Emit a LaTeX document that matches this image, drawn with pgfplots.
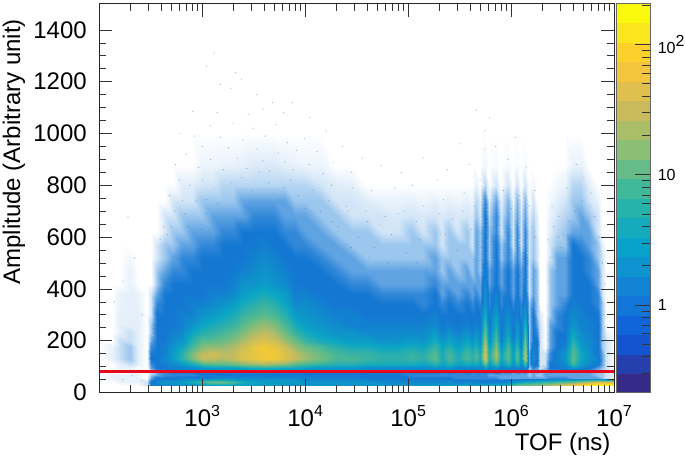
\documentclass[border=0pt]{standalone}
\usepackage{fontspec}
\setmainfont{Liberation Sans}
\usepackage{pgfplots}
\usepackage{pgfplotstable}
\pgfplotsset{compat=1.18}

\newcommand{\lab}{\fontsize{24}{28}\selectfont}
\newcommand{\up}[1]{\raisebox{0.42em}{\fontsize{16}{16}\selectfont #1}}

% counts per cell as levels: 0 empty, 5 = one count, +10 per decade
% rows: TOF (ns), columns: amplitude
\pgfplotstableread[header=has colnames]{
T      0 25 30 42 55  68 80 95 110 130  150 175 200 230 260  300 340 380 420 470  520 570 620 680 740  800 880 1000 1500
1.00e2  0 0 0 0 0  0 0 0 0 0  0 0 0 0 0  0 0 0 0 0  0 0 0 0 0  0 0 0 0
1.32e2  0 0 0 0 0.5  0.5 0 0 0 0.5  0.5 0.5 0 0 0  0 0 0 0 0  0 0 0 0 0  0 0 0 0
1.58e2  0 0 0 0.5 0.5  0.5 0 0.5 0.6 1.2  1.2 1.2 1.2 0.6 0.6  0.6 0.5 0.5 0 0  0 0 0 0 0  0 0 0 0
2.00e2  0 0 0 0.5 0.5  0.5 0.5 0.5 1.2 2  2 2 1.2 1.2 0.6  0.6 0.6 0.6 0.5 0.5  0.3 0 0 0 0  0 0 0 0
2.40e2  0 0 0 0.5 0.5  0.5 0.5 0 0.6 0.6  0.6 0.6 0.6 0.6 0.6  0.6 0.5 0.5 0 0  0 0 0 0 0  0 0 0 0
2.88e2  0 0 1 1 0  0 0 0 0 0  0 0 0 0 0  0 0 0 0 0  0 0 0 0 0  0 0 0 0
3.16e2  0 0 5 5 3  2 1 3 4 5  5 4 3 2 2  1 1 1 0 0  0 0 0 0 0  0 0 0 0
3.63e2  0 0 6 7 5  3 3 5 5 5  5 5 5 5 5  5 4 3 2 2  1 1 0 0 0  0 0 0 0
4.37e2  0 0 7 8 5  4 4 5 6 7  6 6 5 5 5  5 5 5 4 3  2 2 1 1 0  0 0 0 0
5.25e2  0 0 7 8 5  4 5 6 7 9  9 8 7 6 5  5 5 5 5 4  3 2 2 1 1  0 0 0 0
6.31e2  0 0 8 9 6  4 5 6 9 12  12 10 8 7 6  6 5 5 5 4  4 3 2 2 1  0.7 0 0 0
7.94e2  0 0 8 11 6  4 5 7 11 16  17 14 12 10 8  6 6 5 5 5  4 3 3 2 1  0.7 0 0 0
1.00e3  0 0 9 14 6  5 5 8 14 20  20 17 15 12 10  8 6 5 5 5  5 4 3 2 2  1 0.4 0 0
1.26e3  0 0 10 16 6  5 5 9 15 20  21 18 15 13 11  9 7 6 5 5  5 4 3 3 2  1 0.4 0 0
1.59e3  0 0 10 16 7  5 5 9 15 19  20 18 16 14 12  10 8 6 5 5  5 5 4 3 2  1.5 0.5 0 0
2.00e3  0 0 10 14 7  5 6 9 16 20  20 19 17 15 13  11 9 7 6 5  5 5 4 3 2  1.5 0.5 0 0
2.51e3  0 0 9 11 7  5 6 10 17 22  22 21 19 17 15  13 11 9 8 6  5 5 5 3 3  1.5 0.6 0 0
3.16e3  0 0 9 10 7  5 6 11 18 23  23 23 21 19 17  14 12 10 8 7  6 5 5 4 3  1.5 0.8 0 0
3.98e3  0 0 9 9 7  5 6 11 19 24  24 24 22 20 18  15 13 11 9 8  7 6 5 4 3  1.5 0.8 0 0
5.01e3  0 0 9 9 7  5 6 11 18 24  24 23 21 19 17  14 12 10 8 7  6 5 5 4 3  1.5 0.8 0 0
6.31e3  0 0 8 9 7  5 6 10 17 22  22 21 18 16 14  12 10 9 7 6  5 5 4 3 3  1.5 0.6 0 0
7.94e3  0 0 8 9 7  5 5 10 15 20  20 18 16 13 11  9 7 6 5 5  5 4 4 3 2  1.5 0.5 0 0
1.00e4  0 0 8 8 6  5 5 9 14 18  18 16 13 11 9  8 7 6 5 5  5 4 3 3 2  1.5 0.4 0 0
1.41e4  0 0 8 8 6  5 5 8 13 16  16 14 11 9 8  7 6 5 5 5  4 3 3 2 2  1 0.4 0 0
2.00e4  0 0 8 8 6  5 5 8 12 14  14 12 10 8 7  6 5 5 5 4  3 3 2 2 1  0.7 0 0 0
2.82e4  0 0 8 8 6  5 5 8 12 14  13 11 9 8 6  6 5 5 4 3  3 2 2 1 1  0.6 0 0 0
3.98e4  0 0 8 8 5  5 5 7 11 13  13 11 9 7 6  5 5 5 4 3  2 2 2 1 0.7  0 0 0 0
5.62e4  0 0 8 7 5  5 5 7 11 12  12 10 8 7 6  5 5 4 3 3  2 2 1 1 0.5  0 0 0 0
7.94e4  0 0 8 7 5  5 5 7 11 12  12 10 8 7 6  5 5 4 3 3  2 2 1 0.8 0.5  0 0 0 0
1.10e5  0 0 8 7 5  4 5 7 11 13  13 11 9 7 6  5 5 4 3 3  2 2 2 1 0.6  0 0 0 0
1.41e5  0 0 8 7 5  4 5 7 10 12  12 10 8 7 6  5 4 4 3 3  2 2 1 0.8 0.4  0 0 0 0
1.82e5  0 0 8 7 5  4 5 8 12 15  15 13 11 9 7  6 5 5 4 3  3 2 2 1 0.6  0 0 0 0
2.14e5  0 0 8 7 5  4 4 7 10 11  11 10 8 6 5  5 4 3 3 2  2 1 1 0.8 0.4  0 0 0 0
2.51e5  0 0 8 7 5  4 5 8 12 14  14 12 10 8 6  5 5 4 3 3  2 2 2 1 0.6  0 0 0 0
3.02e5  0 0 9 6 4  4 4 6 10 11  11 9 8 6 5  5 4 3 3 2  2 2 1 0.8 0.4  0 0 0 0
3.72e5  0 0 9 7 4  4 5 7 11 14  14 12 10 8 6  5 5 4 3 3  2 2 2 1 0.6  0 0 0 0
4.17e5  0 0 9 6 4  4 4 6 10 12  12 10 8 6 5  5 4 3 3 2  2 1 1 0.8 0.4  0 0 0 0
4.57e5  0 0 9 6 4  4 5 7 11 14  14 12 10 8 6  5 5 4 3 3  3 3 3 2 1.5  0.5 0 0 0
5.01e5  0 0 9 6 4  4 4 6 9 11  11 9 7 6 5  5 4 3 3 2  2 2 2 1 0.7  0 0 0 0
5.56e5  0 0 10 6 4  4 5 9 16 22  22 21 19 16 14  11 9 8 7 6  5 5 5 5 4  1.5 0.3 0 0
6.17e5  0 0 10 6 4  3 4 6 9 11  11 9 7 6 5  5 4 4 3 3  2 2 2 1.5 0.7  0 0 0 0
7.08e5  0 0 10 6 4  3 5 8 14 18  19 17 15 13 11  9 7 6 5 5  5 5 4 4 3  1 0.2 0 0
7.94e5  0 0 10 6 3  3 4 5 8 10  10 8 6 5 5  5 4 4 3 3  2 2 1 1 0.6  0 0 0 0
9.33e5  0 0 12 7 3  3 4 7 12 15  15 14 12 10 8  7 6 5 5 5  4 4 4 3 2.5  1 0.2 0 0
1.05e6  0 0 14 8 3  3 3 5 8 9  9 8 6 5 5  5 4 3 3 3  2 1 1 1 0.5  0 0 0 0
1.15e6  0 0 15 9 3  3 4 7 12 15  15 13 11 9 8  6 6 5 5 5  4 4 4 3 2.5  1 0.2 0 0
1.26e6  0 0 16 10 3  3 3 5 7 8  8 6 5 5 5  4 4 3 3 3  2 1 1 1 0.5  0 0 0 0
1.38e6  0 0 16 11 3  3 4 7 14 21  21 19 17 14 12  9 7 6 5 5  5 4 4 3 2.5  1 0.2 0 0
1.51e6  0 0 16 11 3  2 2 2 3 3  3 2 2 2 2  2 2 1 1 1  1 1 1 0.6 0  0 0 0 0
1.62e6  0 0 17 11 3  3 3 4 6 7  7 6 5 5 5  5 4 3 3 3  2 2 2 1.5 1  0.3 0 0 0
1.78e6  0 0 17 12 3  2 3 3 5 5  5 5 5 4 3  2 2 2 2 2  1 1 0.7 0.5 0  0 0 0 0
1.91e6  0 0 17 12 3  2 2 1 1 1  1 1 1 1 1  0.7 0 0 0 0  0 0 0 0 0  0 0 0 0
2.14e6  0 0 18 13 3  3 3 2 1 1  1 0 0 0 0  0 0 0 0 0  0 0 0 0 0  0 0 0 0
2.40e6  0 0 19 13 4  3 3 5 5 4  4 3 3 3 3  2 2 2 2 2  1 1 0.7 0.5 0.3  0 0 0 0
2.82e6  0 0 20 14 4  3 3 5 6 6  6 5 5 5 4  4 3 3 3 3  3 2 1.5 1 0.6  0.3 0 0 0
3.31e6  0 0 22 15 4  3 3 6 7 8  8 6 5 5 5  5 4 3 3 3  3 2 2 1.5 1  0.5 0 0 0
3.98e6  0 0 23 16 3  3 3 8 14 15  15 14 12 10 8  7 6 5 5 5  5 5 3 2 2  1.5 0.5 0 0
4.79e6  0 0 25 18 3  3 3 6 9 10  10 9 8 7 6  6 5 5 5 5  5 4 3 3 2  1.5 0.5 0 0
5.75e6  0 0 27 20 3  3 3 5 7 8  8 7 7 6 6  5 5 5 5 4  4 3 3 2 1  0.6 0 0 0
6.92e6  0 0 28 22 3  2 2 3 5 6  5 5 5 5 5  5 4 4 3 3  2 2 1 1 0.5  0 0 0 0
7.59e6  0 0 28 22 2  2 2 2 3 3  3 2 2 2 2  2 2 1 1 1  1 0.6 0 0 0  0 0 0 0
8.32e6  0 0 28 22 1  1 1 1 1 1  1 1 1 0.6 0  0 0 0 0 0  0 0 0 0 0  0 0 0 0
1.00e7  0 0 28 22 0.6  0.6 0.5 0 0 0  0 0 0 0 0  0 0 0 0 0  0 0 0 0 0  0 0 0 0
}\hist

% single sparse events above the dense region
\pgfplotstableread{
T A
1.3e3 1311
1.1e3 1260
2.1e3 1235
1.5e3 1190
1.9e3 1175
2.4e3 1210
3.4e3 1150
4.8e3 1120
3.9e3 1095
8.1e2 1085
1.4e3 1080
2.8e3 1075
6.2e3 1080
7.5e3 1120
1.1e4 1060
1.2e3 1030
2.0e3 1040
3.1e3 1020
5.2e3 1035
1.6e4 1010
8.4e2 990
1.5e3 985
2.5e3 975
4.1e3 990
6.7e3 965
9.8e3 980
2.3e4 950
6.1e2 1000
1.0e3 950
1.8e3 945
3.4e3 940
5.5e3 925
8.2e3 935
1.3e4 930
3.6e4 905
7.0e2 920
1.2e3 900
2.2e3 905
3.9e3 895
6.4e3 890
1.1e4 880
1.9e4 890
5.5e4 875
5.5e2 880
9.2e2 870
1.6e3 860
2.7e3 865
4.5e3 855
7.6e3 860
1.5e4 845
2.8e4 850
8.6e4 850
1.4e5 905
2.4e5 860
3.9e5 880
5.6e5 1010
5.6e5 940
7.1e5 950
6.2e5 1060
9.3e5 900
1.4e6 870
1.1e6 985
4.3e6 880
5.1e6 830
3.5e6 790
6.0e6 770
2.5e6 720
2.9e6 680
1.7e6 780
4.6e5 1090
3.2e5 960
1.9e5 820
1.1e5 800
7.4e4 790
4.4e4 780
2.9e4 790
1.8e4 800
6.0e2 820
7.6e2 800
4.8e2 760
5.4e2 700
4.2e2 640
3.9e2 590
4.6e2 610
6.4e2 740
1.0e3 820
1.3e3 790
1.9e3 810
1.1e3 745
3.5e5 770
2.2e5 745
1.4e5 720
9.1e4 700
6.0e4 680
4.0e4 660
2.6e4 700
5.0e5 820
8.4e5 780
1.2e6 760
1.6e6 640
2.3e6 590
3.0e6 560
6.5e6 680
7.2e6 600
7.7e6 500
8.1e6 420
8.0e6 300
1.9e2 680
2.2e2 520
1.7e2 430
2.6e2 300
1.4e2 350
2.0e6 90
2.2e6 70
1.8e6 105
2.6e2 45
1.7e2 50
2.1e2 65
2.1e4 640
3.3e4 600
4.7e4 560
6.9e4 610
9.6e4 540
1.3e5 590
1.7e5 520
2.3e5 610
3.0e5 550
4.1e5 630
5.2e5 560
6.5e5 600
8.7e5 620
1.3e6 540
1.7e6 600
2.6e6 640
3.2e6 610
4.2e6 700
5.6e6 660
6.6e6 580
2.5e4 720
3.9e4 700
5.3e4 650
8.0e4 690
1.2e5 660
1.6e5 640
2.0e5 690
2.7e5 670
3.4e5 700
4.4e5 720
5.9e5 720
7.5e5 680
1.0e6 710
1.5e6 720
2.9e6 600
3.7e6 660
4.9e6 740
5.9e6 720
2.8e4 560
4.2e4 520
6.4e4 500
8.8e4 480
1.2e5 500
1.5e5 470
2.0e5 480
2.6e5 510
3.6e5 490
4.8e5 510
6.6e5 520
8.0e5 500
1.0e6 500
1.3e6 480
1.7e6 470
2.4e6 520
2.8e6 470
3.4e6 520
3.0e3 780
4.4e3 810
6.2e3 790
8.6e3 760
1.2e4 780
1.7e4 740
2.4e3 830
3.6e3 850
5.0e3 770
7.2e3 820
1.0e4 710
1.4e4 700
1.8e4 660
5.0e2 640
6.8e2 690
8.8e2 740
1.1e3 690
1.4e3 730
5.8e2 590
7.4e2 640
9.8e2 630
}\sparse

% long list for the mesh, x varying fastest
\pgfplotstablegetrowsof{\hist}
\pgfmathtruncatemacro{\nrows}{\pgfplotsretval}
\pgfmathtruncatemacro{\lastrow}{\nrows-1}
\pgfplotstablegetcolsof{\hist}
\pgfmathtruncatemacro{\lastcol}{\pgfplotsretval-1}
\gdef\cells{}
\foreach \c in {1,...,\lastcol}{%
  \pgfplotstablegetcolumnnamebyindex{\c}\of{\hist}\to{\yval}%
  \foreach \r in {0,...,\lastrow}{%
    \pgfplotstablegetelem{\r}{[index]0}\of{\hist}\let\xv\pgfplotsretval
    \pgfplotstablegetelem{\r}{[index]\c}\of{\hist}\let\zv\pgfplotsretval
    \xdef\cells{\cells (\xv,\yval) [\zv]}%
  }%
}
\newcommand{\plotcells}[1]{\addplot[surf, shader=interp, mesh/cols=\nrows, point meta=explicit] coordinates {#1};}

\begin{document}
\begin{tikzpicture}
\path[use as bounding box] (-99.3pt,-67.5pt) rectangle (585.7pt,392.5pt);
\begin{axis}[
  name=main,
  at={(0pt,0pt)}, anchor=south west,
  scale only axis,
  width=514.7pt, height=388.5pt,
  xmode=log, log basis x=10,
  xmin=100, xmax=1e7, ymin=0, ymax=1500,
  xtick={1e3,1e4,1e5,1e6,1e7},
  xticklabels={10\up{3},10\up{4},10\up{5},10\up{6},10\up{7}},
  minor xtick={200,300,400,500,600,700,800,900,2000,3000,4000,5000,6000,7000,8000,9000,2e4,3e4,4e4,5e4,6e4,7e4,8e4,9e4,2e5,3e5,4e5,5e5,6e5,7e5,8e5,9e5,2e6,3e6,4e6,5e6,6e6,7e6,8e6,9e6},
  ytick={0,200,...,1400},
  minor y tick num=3,
  tick align=inside,
  xtick pos=both, ytick pos=both,
  major tick length=13pt, minor tick length=7pt,
  tick style={black!80, line width=0.6pt},
  axis line style={black!85, line width=1pt},
  axis on top,
  tick label style={font=\lab},
  /pgf/number format/assume math mode=true,
  /pgf/number format/1000 sep={},
  yticklabel style={xshift=-9pt},
  xticklabel style={yshift=-9pt},
  xlabel={TOF (ns)}, ylabel={Amplitude (Arbitrary unit)},
  every axis x label/.style={at={(axis description cs:1,0)}, anchor=east, yshift=-52pt, font=\lab},
  every axis y label/.style={at={(axis description cs:-0.1657,0.269)}, rotate=90, anchor=west, font=\lab},
  colormap={hist}{rgb255(0pt)=(255,255,255); rgb255(1pt)=(210,229,247); rgb255(2pt)=(155,198,238); rgb255(3pt)=(95,163,226); rgb255(4pt)=(50,136,216); rgb255(5pt)=(20,120,210); rgb255(10pt)=(10,166,196); rgb255(15pt)=(89,187,140); rgb255(20pt)=(194,188,96); rgb255(25pt)=(253,204,46); rgb255(28pt)=(249,250,14)},
  point meta min=0, point meta max=28,
]
\expandafter\plotcells\expandafter{\cells}
\addplot[only marks, mark=*, mark size=0.6pt, color={rgb,255:red,40;green,115;blue,185}, opacity=0.55, mark options={draw opacity=0}] table[x=T, y=A] {\sparse};
\addplot[color={rgb,255:red,232;green,8;blue,28}, line width=2.6pt] coordinates {(100,82) (1e7,82)};
\end{axis}
% palette
\begin{axis}[
  at={(517pt,-0.2pt)}, anchor=south west,
  scale only axis,
  width=34pt, height=389.7pt,
  xmin=0, xmax=1, ymin=-0.675, ymax=2.32,
  xtick=\empty,
  ytick={0,1,2},
  yticklabels={1,10,10\up{2}},
  minor ytick={-0.523,-0.398,-0.301,-0.222,-0.155,-0.097,-0.046,0.301,0.477,0.602,0.699,0.778,0.845,0.903,0.954,1.301,1.477,1.602,1.699,1.778,1.845,1.903,1.954,2.301},
  ytick pos=right, tick align=inside,
  major tick length=15pt, minor tick length=8pt,
  tick style={black!80, line width=0.6pt},
  axis line style={black!60, line width=0.6pt},
  axis on top,
  yticklabel style={font=\fontsize{16}{18}\selectfont, anchor=west, xshift=4pt},
  colormap={bird}{rgb(0pt)=(0.2082,0.1664,0.5293); rgb(1pt)=(0.0592,0.3599,0.8684); rgb(2pt)=(0.0780,0.5041,0.8385); rgb(3pt)=(0.0232,0.6419,0.7914); rgb(4pt)=(0.1802,0.7178,0.6425); rgb(5pt)=(0.5301,0.7492,0.4662); rgb(6pt)=(0.8186,0.7328,0.3499); rgb(7pt)=(0.9956,0.7862,0.1968); rgb(8pt)=(0.9764,0.9832,0.0539)},
  point meta min=0, point meta max=1,
]
\addplot[surf, shader=flat corner, mesh/cols=2, point meta=explicit] coordinates {
(0,-0.675) [0.000] (1,-0.675) [0.000]
(0,-0.525) [0.053] (1,-0.525) [0.053]
(0,-0.376) [0.105] (1,-0.376) [0.105]
(0,-0.226) [0.158] (1,-0.226) [0.158]
(0,-0.076) [0.211] (1,-0.076) [0.211]
(0,0.074) [0.263] (1,0.074) [0.263]
(0,0.224) [0.316] (1,0.224) [0.316]
(0,0.373) [0.368] (1,0.373) [0.368]
(0,0.523) [0.421] (1,0.523) [0.421]
(0,0.673) [0.474] (1,0.673) [0.474]
(0,0.823) [0.526] (1,0.823) [0.526]
(0,0.972) [0.579] (1,0.972) [0.579]
(0,1.122) [0.632] (1,1.122) [0.632]
(0,1.272) [0.684] (1,1.272) [0.684]
(0,1.422) [0.737] (1,1.422) [0.737]
(0,1.571) [0.789] (1,1.571) [0.789]
(0,1.721) [0.842] (1,1.721) [0.842]
(0,1.871) [0.895] (1,1.871) [0.895]
(0,2.021) [0.947] (1,2.021) [0.947]
(0,2.170) [1.000] (1,2.170) [1.000]
(0,2.320) [1.000] (1,2.320) [1.000]
};
\end{axis}
\end{tikzpicture}
\end{document}
